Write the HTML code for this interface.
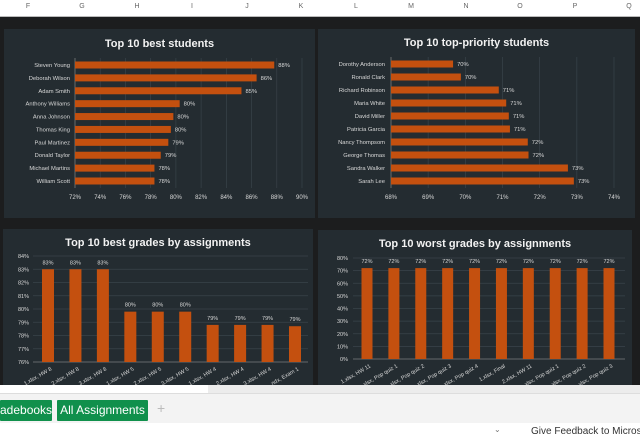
<!DOCTYPE html>
<html><head><meta charset="utf-8"><style>
body{margin:0;width:640px;height:440px;overflow:hidden;background:#fff;font-family:"Liberation Sans",sans-serif;position:relative}
.hdr{position:absolute;left:0;top:0;width:640px;height:16px;background:#fff;border-bottom:1px solid #bbb}
.col{position:absolute;top:3px;font-size:7px;color:#666;width:20px;text-align:center}
#dark{position:absolute;left:0;top:17px;width:640px;height:368px;background:#1c1d1e}
svg{position:absolute;left:0;top:0}
.tabbar{position:absolute;left:0;top:393px;width:640px;height:29px;background:#f3f3f3;border-top:1px solid #ddd}
.tab{position:absolute;top:6px;height:21px;background:#10904c;color:#fff;font-size:12px;line-height:21px;white-space:nowrap;box-sizing:border-box;text-align:center;border-radius:1px;overflow:hidden}
</style></head><body>
<div class="hdr">
<span class="col" style="left:18px">F</span><span class="col" style="left:72px">G</span><span class="col" style="left:127px">H</span><span class="col" style="left:182px">I</span><span class="col" style="left:237px">J</span><span class="col" style="left:291px">K</span><span class="col" style="left:346px">L</span><span class="col" style="left:401px">M</span><span class="col" style="left:456px">N</span><span class="col" style="left:510px">O</span><span class="col" style="left:565px">P</span><span class="col" style="left:619px">Q</span>
</div>
<div id="dark"></div>
<svg id="s" width="640" height="440"></svg>
<div style="position:absolute;left:0;top:385px;width:640px;height:8px;background:#fff"></div>
<div style="position:absolute;left:208px;top:385px;width:432px;height:8px;background:#ececec"></div>
<div class="tabbar">
<div class="tab" style="left:0;width:52px;text-align:right;padding-right:5px">adebooks</div>
<div class="tab" style="left:57px;width:91px">All Assignments</div>
<div style="position:absolute;left:157px;top:6px;color:#bbb;font-size:14px">+</div>
</div>
<div style="position:absolute;left:531px;top:426px;font-size:10px;color:#333;white-space:nowrap">Give Feedback to Microsoft</div>
<div style="position:absolute;left:494px;top:425px;font-size:8px;color:#777">⌄</div>
<script>
const NS="http://www.w3.org/2000/svg";
const s=document.getElementById('s');
function el(t,a,txt){const e=document.createElementNS(NS,t);for(const k in a)e.setAttribute(k,a[k]);if(txt!=null)e.textContent=txt;s.appendChild(e);return e;}
const BAR="#c4500f",BG="#242c31",GRID="#39434a",TX="#d8d8d8";

const names1=["Steven Young","Deborah Wilson","Adam Smith","Anthony Williams","Anna Johnson","Thomas King","Paul Martinez","Donald Taylor","Michael Martins","William Scott"];
const vals1=[87.8,86.4,85.2,80.3,79.8,79.6,79.4,78.8,78.3,78.3];
const labels1=["88%","86%","85%","80%","80%","80%","79%","79%","78%","78%"];
const ticks1=[72,74,76,78,80,82,84,86,88,90];

const names2=["Dorothy Anderson","Ronald Clark","Richard Robinson","Maria White","David Miller","Patricia Garcia","Nancy Thompsom","George Thomas","Sandra Walker","Sarah Lee"];
const vals2=[69.67,69.88,70.9,71.1,71.17,71.2,71.68,71.7,72.76,72.92];
const labels2=["70%","70%","71%","71%","71%","71%","72%","72%","73%","73%"];
const ticks2=[68,69,70,71,72,73,74];

const cats3=["1.xlsx, HW 8","2.xlsx, HW 8","3.xlsx, HW 8","1.xlsx, HW 5","2.xlsx, HW 5","3.xlsx, HW 5","1.xlsx, HW 4","2.xlsx, HW 4","3.xlsx, HW 4","ndx, Exam 1"];
const vals3=[83,83,83,79.8,79.8,79.8,78.8,78.8,78.8,78.7];
const labels3=["83%","83%","83%","80%","80%","80%","79%","79%","79%","79%"];
const ticks3=[76,77,78,79,80,81,82,83,84];

const cats4=["1.xlsx, HW 11","xlsx, Pop quiz 1","xlsx, Pop quiz 2","xlsx, Pop quiz 3","xlsx, Pop quiz 4","1.xlsx, Final","2.xlsx, HW 11","xlsx, Pop quiz 1","xlsx, Pop quiz 2","xlsx, Pop quiz 3"];
const vals4=[72,72,72,72,72,72,72,72,72,72];
const labels4=["72%","72%","72%","72%","72%","72%","72%","72%","72%","72%"];
const ticks4=[0,10,20,30,40,50,60,70,80];

function panel(x,y,w,h,title,ty,name){
  const r=el('rect',{x,y,width:w,height:h,fill:BG});
  
  const t=el('text',{x:x+w/2,y:ty,'text-anchor':'middle','font-size':11,'font-weight':'bold',fill:'#f2f2f2'},title);
  
}
function hbar(names,vals,labels,ticks,x0,x1,ymin,ymax,yTop,yBot,lx,name){
  const X=v=>x0+(v-ymin)/(ymax-ymin)*(x1-x0);
  const step=(yBot-yTop)/(names.length-1);
  ticks.forEach(t=>{
    el('line',{x1:X(t),x2:X(t),y1:yTop-7,y2:yBot+7,stroke:GRID,'stroke-width':0.7});
    const tl=el('text',{x:X(t),y:yBot+18,'text-anchor':'middle','font-size':6,fill:TX},t+'%');
    
  });
  el('line',{x1:x0,x2:x0,y1:yTop-7,y2:yBot+7,stroke:'#777','stroke-width':0.8});
  names.forEach((n,i)=>{
    const cy=yTop+i*step;
    const nl=el('text',{x:lx,y:cy+2,'text-anchor':'end','font-size':5.8,fill:TX},n);
    
    const b=el('rect',{x:x0,y:cy-3.5,width:X(vals[i])-x0,height:7,fill:BAR});
    
    const vl=el('text',{x:X(vals[i])+4,y:cy+2,'font-size':5.8,fill:TX},labels[i]);
    
  });
}
function vbar(cats,vals,labels,ticks,yb,yt,vmin,vmax,xl,xr,c0,c1,bw,tx,name){
  const Y=v=>yb-(v-vmin)/(vmax-vmin)*(yb-yt);
  ticks.forEach(t=>{
    el('line',{x1:xl,x2:xr,y1:Y(t),y2:Y(t),stroke:GRID,'stroke-width':0.7});
    const tl=el('text',{x:tx,y:Y(t)+2,'text-anchor':'end','font-size':5.5,fill:TX},t+'%');
    
  });
  el('line',{x1:xl,x2:xr,y1:yb,y2:yb,stroke:'#777','stroke-width':0.8});
  const step=(c1-c0)/(cats.length-1);
  cats.forEach((c,i)=>{
    const cx=c0+i*step;
    const b=el('rect',{x:cx-bw/2,y:Y(vals[i]),width:bw,height:yb-Y(vals[i]),fill:BAR});
    
    const vl=el('text',{x:cx,y:Y(vals[i])-5,'text-anchor':'middle','font-size':5.5,fill:TX},labels[i]);
    
    const cl=el('text',{x:cx+4,y:yb+8,'text-anchor':'end','font-size':5.5,fill:TX,transform:`rotate(-30 ${cx+4} ${yb+8})`},c);
    
  });
}
panel(4,29,311,189,"Top 10 best students",47,"best-students-chart");
hbar(names1,vals1,labels1,ticks1,75,302,72,90,65,181,70,"best-students");
panel(318,29,317,189,"Top 10 top-priority students",46,"priority-students-chart");
hbar(names2,vals2,labels2,ticks2,391,614,68,74,64,181,385,"priority-students");
panel(3,229,310,160,"Top 10 best grades by assignments",246,"best-grades-chart");
vbar(cats3,vals3,labels3,ticks3,362,256,76,84,33,308,48,295,12,29,"best-grades");
panel(318,230,314,160,"Top 10 worst grades by assignments",247,"worst-grades-chart");
vbar(cats4,vals4,labels4,ticks4,359,258,0,80,353,625,367,609,11,348,"worst-grades");
</script>
</body></html>
